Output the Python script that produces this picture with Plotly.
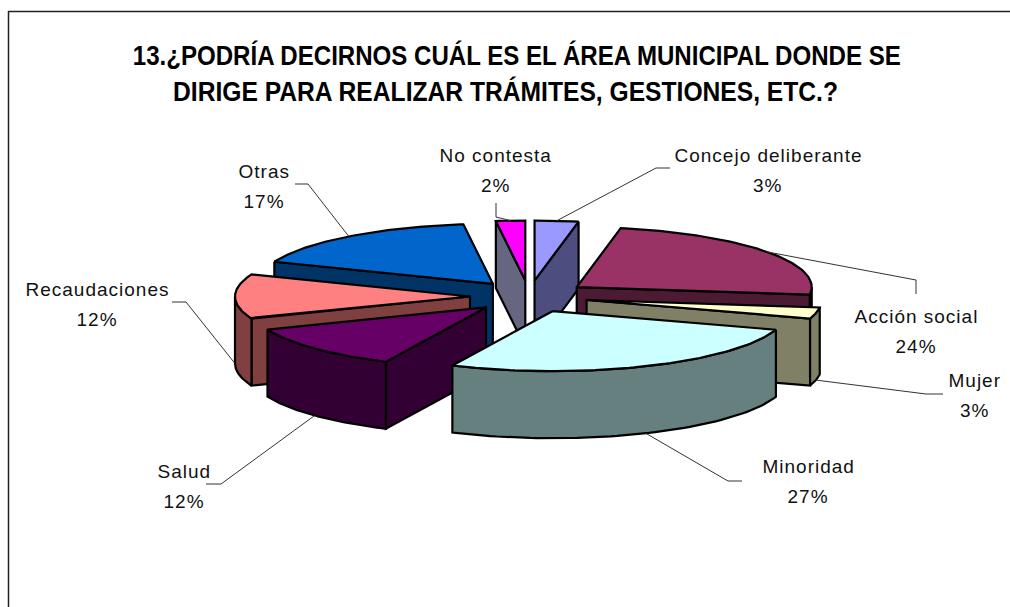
import numpy as np
import plotly.graph_objects as go

title_lines = [
    "13.¿PODRÍA DECIRNOS CUÁL ES EL ÁREA MUNICIPAL DONDE SE",
    "DIRIGE PARA REALIZAR TRÁMITES, GESTIONES, ETC.?",
]

# clockwise from 12 o'clock
categories = ["Concejo deliberante", "Acción social", "Mujer", "Minoridad", "Salud", "Recaudaciones", "Otras", "No contesta"]
values = [3, 24, 3, 27, 12, 12, 17, 2]
top_colors = ["#9999FF", "#993366", "#FFFFCC", "#CCFFFF", "#660066", "#FF8080", "#0066CC", "#FF00FF"]
side_colors = ["#4D4D80", "#4D1A33", "#808066", "#668080", "#330033", "#804040", "#003366", "#666680"]

# label centres and leader-line bends (pixels)
label_x = [768, 916, 975, 808, 184, 97, 264, 496]
label_y = [155, 316, 380, 466, 471, 289, 171, 155]
leader_bend = [(656, 168), (916, 280), (926, 394), (728, 481), (221, 484), (186, 302), (308, 184), (496, 217)]
leader_end = [(670, 168), (916, 294), (943, 394), (742, 481), (206, 484), (172, 302), (295, 184), (496, 203)]

CX, CY = 529, 296.5
RX, RY = 235, 60
EXPLODE_X, EXPLODE_Y = 59, 16
DEPTH = 67
LINE_GAP = 30


def rim(ax, ay, angles):
    return ax + RX * np.sin(angles), ay - RY * np.cos(angles)


def add_poly(fig, xs, ys, color, name):
    fig.add_trace(go.Scatter(
        x=np.append(xs, xs[0]), y=np.append(ys, ys[0]),
        mode="lines", fill="toself", fillcolor=color,
        line=dict(color="black", width=2.2),
        name=name, hoverinfo="name", showlegend=False,
    ))


def add_cut_face(fig, ax, ay, angle, color, name):
    ex, ey = rim(ax, ay, np.array([angle]))
    xs = np.array([ex[0], ax, ax, ex[0]])
    ys = np.array([ey[0], ay, ay + DEPTH, ey[0] + DEPTH])
    add_poly(fig, xs, ys, color, name)


fracs = np.cumsum([0] + values) / sum(values) * 2 * np.pi
starts, ends = fracs[:-1], fracs[1:]
mids = (starts + ends) / 2

fig = go.Figure()

# back slices first
for i in np.argsort(-np.cos(mids)):
    name = categories[i]
    ax = CX + EXPLODE_X * np.sin(mids[i])
    ay = CY - EXPLODE_Y * np.cos(mids[i])

    if np.sin(ends[i]) > 0:
        add_cut_face(fig, ax, ay, ends[i], side_colors[i], name)
    if np.sin(starts[i]) < 0:
        add_cut_face(fig, ax, ay, starts[i], side_colors[i], name)

    lo, hi = max(starts[i], np.pi / 2), min(ends[i], 3 * np.pi / 2)
    if hi > lo:
        arc = np.linspace(lo, hi, 60)
        rx, ry = rim(ax, ay, arc)
        add_poly(fig, np.r_[rx, rx[::-1]], np.r_[ry, ry[::-1] + DEPTH], side_colors[i], name)

    arc = np.linspace(starts[i], ends[i], 80)
    rx, ry = rim(ax, ay, arc)
    add_poly(fig, np.r_[ax, rx], np.r_[ay, ry], top_colors[i], name)

for i, name in enumerate(categories):
    ax = CX + EXPLODE_X * np.sin(mids[i])
    ay = CY - EXPLODE_Y * np.cos(mids[i])
    sx, sy = rim(ax, ay, mids[i])
    if np.cos(mids[i]) < 0:
        sy += DEPTH
    fig.add_trace(go.Scatter(
        x=[sx, leader_bend[i][0], leader_end[i][0]],
        y=[sy, leader_bend[i][1], leader_end[i][1]],
        mode="lines", line=dict(color="#333333", width=1),
        hoverinfo="skip", showlegend=False,
    ))
    fig.add_annotation(x=label_x[i], y=label_y[i], text=name, showarrow=False,
                       xanchor="center", yanchor="middle")
    fig.add_annotation(x=label_x[i], y=label_y[i] + LINE_GAP, text=f"{values[i]}%", showarrow=False,
                       xanchor="center", yanchor="middle")

title_font = dict(family="Liberation Sans", size=27, color="black", weight="bold")
fig.add_annotation(x=517, y=55, text=title_lines[0], showarrow=False, font=title_font,
                   xanchor="center", yanchor="middle")
fig.add_annotation(x=505, y=91, text=title_lines[1], showarrow=False, font=title_font,
                   xanchor="center", yanchor="middle")

fig.add_shape(type="line", x0=8.5, x1=8.5, y0=11, y1=607, line=dict(color="#222222", width=1.5))
fig.add_shape(type="line", x0=8, x1=1010, y0=11.5, y1=11.5, line=dict(color="#222222", width=1.5))

fig.update_layout(
    width=1010,
    height=607,
    margin=dict(l=0, r=0, t=0, b=0),
    paper_bgcolor="white",
    plot_bgcolor="white",
    showlegend=False,
    font=dict(family="Liberation Sans", size=19, color="#111111"),
    xaxis=dict(range=[0, 1010], visible=False, fixedrange=True),
    yaxis=dict(range=[607, 0], visible=False, fixedrange=True),
)

# excel's condensed title and wide-set labels, no plotly option for these
post = """
document.body.style.margin = '0';
document.querySelectorAll('.annotation-text').forEach(function (t) {
  if (t.textContent.startsWith('13.')) {
    t.setAttribute('textLength', '768');
    t.setAttribute('lengthAdjust', 'spacingAndGlyphs');
  } else if (t.textContent.startsWith('DIRIGE')) {
    t.setAttribute('textLength', '665');
    t.setAttribute('lengthAdjust', 'spacingAndGlyphs');
  } else {
    t.style.letterSpacing = '1px';
  }
});
"""
fig.write_html("out.html", post_script=post, config={"displayModeBar": False})
